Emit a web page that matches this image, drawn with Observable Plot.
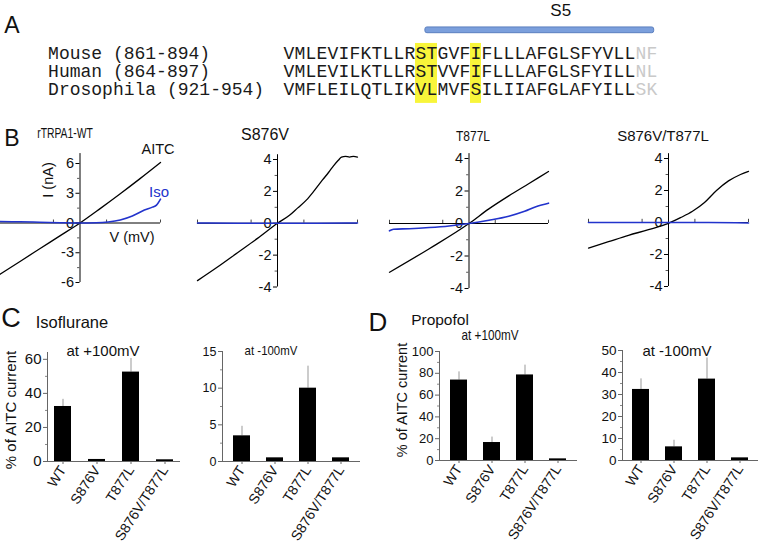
<!DOCTYPE html>
<html><head><meta charset="utf-8">
<script src="https://cdn.jsdelivr.net/npm/d3@7"></script>
<script src="https://cdn.jsdelivr.net/npm/@observablehq/plot@0.6"></script>
<style>
html,body{margin:0;padding:0;background:#fff;}
#fig{position:relative;width:762px;height:554px;overflow:hidden;font-family:"Liberation Sans",Arial,sans-serif;color:#111;background:#fff;}
#fig svg{position:absolute;left:0;top:0;overflow:visible;}
.lbl{position:absolute;white-space:nowrap;line-height:1;}
</style></head><body><div id="fig"></div>
<script>
// ---------- Panel A data ----------
const species = ["Mouse (861-894)", "Human (864-897)", "Drosophila (921-954)"];
const sequences = [
  "VMLEVIFKTLLRSTGVFIFLLLAFGLSFYVLLNF",
  "VMLEVILKTLLRSTVVFIFLLLAFGLSFYILLNL",
  "VMFLEILQTLIKVLMVFSILIIAFGLAFYILLSK"
];
const highlightStart = [12, 17];
const highlightEnd = [14, 18];
const s5Start = 12.9, s5End = 33.7;

// ---------- Panel B data: [mV, nA] ----------
const ivTitles = ["rTRPA1-WT", "S876V", "T877L", "S876V/T877L"];
const wtAITC = [[-100,-5.2],[-75,-3.9],[-50,-2.6],[-25,-1.3],[0,0],[25,1.45],[50,2.95],[75,4.5],[100,6.1]];
const wtIso = [[-100,0.15],[-75,0.12],[-50,0.08],[-25,0.03],[0,0],[20,0.02],[35,0.1],[50,0.3],[65,0.7],[80,1.3],[90,1.6],[95,1.8],[100,2.4]];
const s876vAITC = [[-100,-3.6],[-75,-2.75],[-50,-1.85],[-25,-0.95],[0,0],[15,0.5],[25,0.95],[36,1.45],[46,2.05],[56,2.7],[64,3.2],[70,3.6],[76,3.95],[80,4.15],[85,4.2],[90,4.15],[95,4.2],[100,4.15]];
const s876vIso = [[-100,0.02],[-50,0.0],[0,0],[50,0.0],[100,0.02]];
const t877lAITC = [[-100,-3.0],[-50,-1.55],[0,0],[25,0.9],[50,1.7],[75,2.45],[100,3.2]];
const t877lIso = [[-100,-0.45],[-95,-0.35],[-75,-0.32],[-50,-0.25],[-25,-0.15],[0,0],[25,0.2],[50,0.45],[70,0.75],[85,1.05],[100,1.25]];
const dmAITC = [[-100,-1.6],[-75,-1.2],[-50,-0.8],[-25,-0.45],[0,-0.05],[15,0.3],[30,0.7],[45,1.25],[60,2.0],[75,2.6],[90,3.0],[100,3.2]];
const dmIso = [[-100,0.0],[-50,0.0],[0,0],[50,0.0],[100,-0.03]];

// ---------- Panels C, D data (% of AITC current) ----------
const genotypes = ["WT", "S876V", "T877L", "S876V/T877L"];
const isoPos = [32.3, 1.2, 52.5, 1.0];
const isoPosErr = [4.2, 0, 8.0, 0];
const isoNeg = [3.5, 0.5, 10.0, 0.5];
const isoNegErr = [1.3, 0, 3.0, 0];
const propPos = [73.8, 16.5, 78.5, 1.5];
const propPosErr = [7.5, 5.0, 9.0, 0];
const propNeg = [32.3, 6.2, 37.0, 1.2];
const propNegErr = [4.8, 3.0, 9.6, 0];

const fig = document.getElementById("fig");
const SANS = '"Liberation Sans", Arial, sans-serif';
const MONO = '"Courier New", "Liberation Mono", monospace';

function place(svg, left, top) {
  svg.style.position = "absolute";
  svg.style.left = left + "px";
  svg.style.top = top + "px";
  svg.style.background = "transparent";
  svg.style.maxWidth = "none";
  fig.appendChild(svg);
}
function lab(text, x, y, size, opts = {}) {
  const d = document.createElement("div");
  d.className = "lbl";
  d.textContent = text;
  d.style.left = x + "px";
  d.style.top = y + "px";
  d.style.fontSize = size + "px";
  d.style.color = opts.color || "#111";
  const rot = opts.rotate ? ` rotate(${opts.rotate}deg)` : "";
  const sx = opts.scaleX ? ` scaleX(${opts.scaleX})` : "";
  d.style.transform = `translate(-50%,-50%)${rot}${sx}`;
  fig.appendChild(d);
}

// ---------- Panel A ----------
{
  const chars = [];
  const tailChars = [];
  sequences.forEach((s, r) => [...s].forEach((c, i) => (i >= s.length - 2 ? tailChars : chars).push({r, i, c})));
  const hl = highlightStart.map((s, k) => ({x1: s, x2: highlightEnd[k]}));
  const FS = 18;
  const svg = Plot.plot({
    width: 762, height: 110, margin: 0,
    x: {domain: [0, 34], range: [283, 657], axis: null},
    y: {domain: [0, 2], range: [52.5, 88.5], axis: null},
    style: {background: "transparent", fontFamily: SANS},
    marks: [
      Plot.rect(hl, {x1: "x1", x2: "x2", y1: () => -0.53, y2: () => 2.8, fill: "#f8f53a"}),
      Plot.rect([{a: s5Start, b: s5End}], {x1: "a", x2: "b", y1: () => -1.1, y2: () => -1.42, fill: "#7b9fdc", stroke: "#5b7fbf", rx: 2}),
      Plot.text(chars, {x: d => d.i + 0.5, y: "r", text: "c", fill: "#1a1a1a", fontFamily: MONO, fontSize: FS}),
      Plot.text(tailChars, {x: d => d.i + 0.5, y: "r", text: "c", fill: "#c9c9c9", fontFamily: MONO, fontSize: FS}),
      Plot.text(species, {x: () => -21.4, y: (d, i) => i, text: d => d, textAnchor: "start", fill: "#1a1a1a", fontFamily: MONO, fontSize: FS}),
      Plot.text(["S5"], {x: () => 25.2, y: () => -2.36, text: d => d, fontSize: 17, fill: "#111"})
    ]
  });
  place(svg, 0, 0);
  lab("A", 12, 25, 23);
}

// ---------- Panel B ----------
function iv(cfg) {
  const {xr, yd, yr, yTop, ticks, minor, xticks, black, blue} = cfg;
  const span = yd[1] - yd[0];
  const svg = Plot.plot({
    width: 762, height: 554, margin: 0,
    x: {domain: [-100, 100], range: xr, axis: null},
    y: {domain: yd, range: yr, axis: null},
    style: {background: "transparent", fontFamily: SANS},
    marks: [
      Plot.ruleY([0], {x1: () => -100, x2: () => 100, stroke: "#000", strokeWidth: 1}),
      Plot.ruleX([0], {y1: () => yd[0], y2: () => yTop, stroke: "#000", strokeWidth: 1}),
      Plot.ruleY(ticks, {x1: () => -5, x2: () => 0, stroke: "#000"}),
      Plot.ruleY(minor, {x1: () => -3, x2: () => 0, stroke: "#555"}),
      Plot.ruleX(xticks, {y1: () => 0, y2: () => span * 0.025, stroke: "#444"}),
      Plot.text(ticks, {x: () => 0, y: d => d, text: d => String(d), textAnchor: "end", dx: -6, fontSize: 14.5, fill: "#111"}),
      Plot.line(black, {x: d => d[0], y: d => d[1], stroke: "#000", strokeWidth: 1.3, curve: "monotone-x"}),
      Plot.line(blue, {x: d => d[0], y: d => d[1], stroke: "#2233cc", strokeWidth: 1.6, curve: "monotone-x"})
    ]
  });
  place(svg, 0, 0);
}
iv({xr: [-1, 160], yd: [-6, 6], yr: [282, 163], yTop: 7, ticks: [-6, -3, 0, 3, 6], minor: [-4.5, -1.5, 1.5, 4.5], xticks: [-33, 33, 100], black: wtAITC, blue: wtIso});
iv({xr: [197, 357], yd: [-4, 4], yr: [286.5, 159], yTop: 4.3, ticks: [-4, -2, 0, 2, 4], minor: [-3, -1, 1, 3], xticks: [-100, -33, 33, 100], black: s876vAITC, blue: s876vIso});
iv({xr: [389, 548], yd: [-4, 4], yr: [288, 158], yTop: 4.3, ticks: [-4, -2, 0, 2, 4], minor: [-3, -1, 1, 3], xticks: [-100, -33, 33, 100], black: t877lAITC, blue: t877lIso});
iv({xr: [588, 748], yd: [-4, 4], yr: [286, 158], yTop: 4.3, ticks: [-4, -2, 0, 2, 4], minor: [-3, -1, 1, 3], xticks: [-100, -33, 33, 100], black: dmAITC, blue: dmIso});

lab("B", 12, 138, 23);
lab(ivTitles[0], 65, 133, 14, {scaleX: 0.74});
lab(ivTitles[1], 265, 135, 16);
lab(ivTitles[2], 473, 135, 15, {scaleX: 0.8});
lab(ivTitles[3], 663, 135, 15);
lab("AITC", 158, 149, 14.5);
lab("Iso", 159, 191, 15, {color: "#2233cc"});
lab("I (nA)", 48, 180, 14.5, {rotate: -90});
lab("V (mV)", 132, 237, 14.5);

// ---------- Panels C, D ----------
function bars(cfg) {
  const {left, top, width, height, ml, mr, mt, mb, domain, ticks, minor, values, errs, fs, po} = cfg;
  const data = genotypes.map((g, i) => ({g, v: values[i], hi: values[i] + errs[i], e: errs[i]}));
  const svg = Plot.plot({
    width, height, marginLeft: ml, marginRight: mr, marginTop: mt, marginBottom: mb,
    style: {background: "transparent", fontFamily: SANS, fontSize: fs + "px", color: "#111"},
    x: {domain: genotypes, paddingInner: 0.5, paddingOuter: po, label: null},
    y: {domain, label: null},
    marks: [
      Plot.ruleX(data.filter(d => d.e > 0), {x: "g", y1: "v", y2: "hi", stroke: "#999", strokeWidth: 1}),
      Plot.barY(data, {x: "g", y: "v", fill: "#000"}),
      Plot.ruleY([0], {stroke: "#666"}),
      Plot.frame({anchor: "left", stroke: "#666"}),
      Plot.axisY({ticks, tickSize: 4, tickPadding: 2, stroke: "#666", fontSize: fs, label: null}),
      Plot.axisY({ticks: minor, tickSize: 2, tickFormat: () => "", stroke: "#888", label: null}),
      Plot.axisX({tickRotate: -57, tickSize: 3, tickPadding: 3, stroke: "#666", fontSize: 14, label: null})
    ]
  });
  place(svg, left, top);
}
bars({left: 0, top: 340, width: 190, height: 214, ml: 47, mr: 10, mt: 12, mb: 93, domain: [0, 64], ticks: [0, 20, 40, 60], minor: [10, 30, 50], values: isoPos, errs: isoPosErr, fs: 15, po: 0.2});
bars({left: 190, top: 340, width: 180, height: 214, ml: 32, mr: 10, mt: 11, mb: 93, domain: [0, 15], ticks: [0, 5, 10, 15], minor: [2.5, 7.5, 12.5], values: isoNeg, errs: isoNegErr, fs: 12.5, po: 0.28});
bars({left: 385, top: 340, width: 200, height: 214, ml: 54, mr: 8, mt: 11, mb: 94, domain: [0, 100], ticks: [0, 20, 40, 60, 80, 100], minor: [10, 30, 50, 70, 90], values: propPos, errs: propPosErr, fs: 13, po: 0.28});
bars({left: 580, top: 340, width: 182, height: 214, ml: 42, mr: 4, mt: 10, mb: 94, domain: [0, 50], ticks: [0, 10, 20, 30, 40, 50], minor: [5, 15, 25, 35, 45], values: propNeg, errs: propNegErr, fs: 13.5, po: 0.28});

lab("C", 11, 318, 27);
lab("Isoflurane", 72, 322, 16.5);
lab("at +100mV", 103, 350, 15);
lab("at -100mV", 271, 350, 13, {scaleX: 0.88});
lab("% of AITC current", 10, 410, 15, {rotate: -90});
lab("D", 378, 322, 26);
lab("Propofol", 440, 320, 15.5);
lab("at +100mV", 490, 334, 15, {scaleX: 0.78});
lab("at -100mV", 677, 350, 15);
lab("% of AITC current", 402, 400, 14.5, {rotate: -90});
</script>
</body></html>
